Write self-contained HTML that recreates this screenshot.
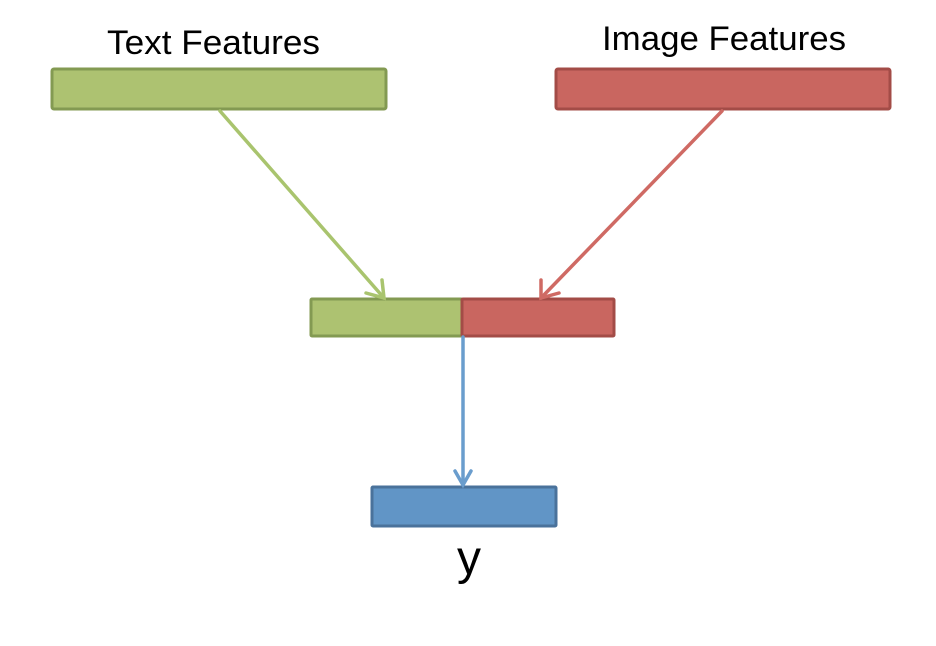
<!DOCTYPE html>
<html><head><meta charset="utf-8"><style>
html,body{margin:0;padding:0;background:#fff;}
svg{display:block;}
</style></head><body>
<svg width="936" height="646" viewBox="0 0 936 646" xmlns="http://www.w3.org/2000/svg">
<g font-family="Liberation Sans, sans-serif" fill="#000">
<text x="107" y="54" font-size="34" textLength="213" lengthAdjust="spacingAndGlyphs">Text Features</text>
<text x="602" y="50" font-size="34" textLength="244" lengthAdjust="spacingAndGlyphs">Image Features</text>
<text x="457" y="574" font-size="48">y</text>
</g>
<rect x="52" y="69" width="334" height="40" rx="2" fill="#adc271" stroke="#839a52" stroke-width="3"/>
<rect x="556" y="69" width="334" height="40" rx="2" fill="#c96660" stroke="#a34c47" stroke-width="3"/>
<rect x="311" y="299" width="151" height="37" rx="1" fill="#adc271" stroke="#839a52" stroke-width="3"/>
<rect x="462" y="299" width="152" height="37" rx="1" fill="#c96660" stroke="#a34c47" stroke-width="3"/>
<rect x="372" y="487" width="184" height="39" rx="1" fill="#6195c6" stroke="#4a729b" stroke-width="3"/>
<g fill="none" stroke-width="3.5" stroke-linecap="round">
<g stroke="#a9c46e">
<line x1="220" y1="111" x2="384" y2="298"/>
<polyline points="366,293 384,298 382,280"/>
</g>
<g stroke="#cf6a64">
<line x1="722" y1="111" x2="541" y2="298"/>
<polyline points="541,280 541,298 559,293"/>
</g>
<g stroke="#6a9dcd">
<line x1="463" y1="337" x2="463" y2="485"/>
<polyline points="455,471 463,485 471,471"/>
</g>
</g>
</svg>
</body></html>
